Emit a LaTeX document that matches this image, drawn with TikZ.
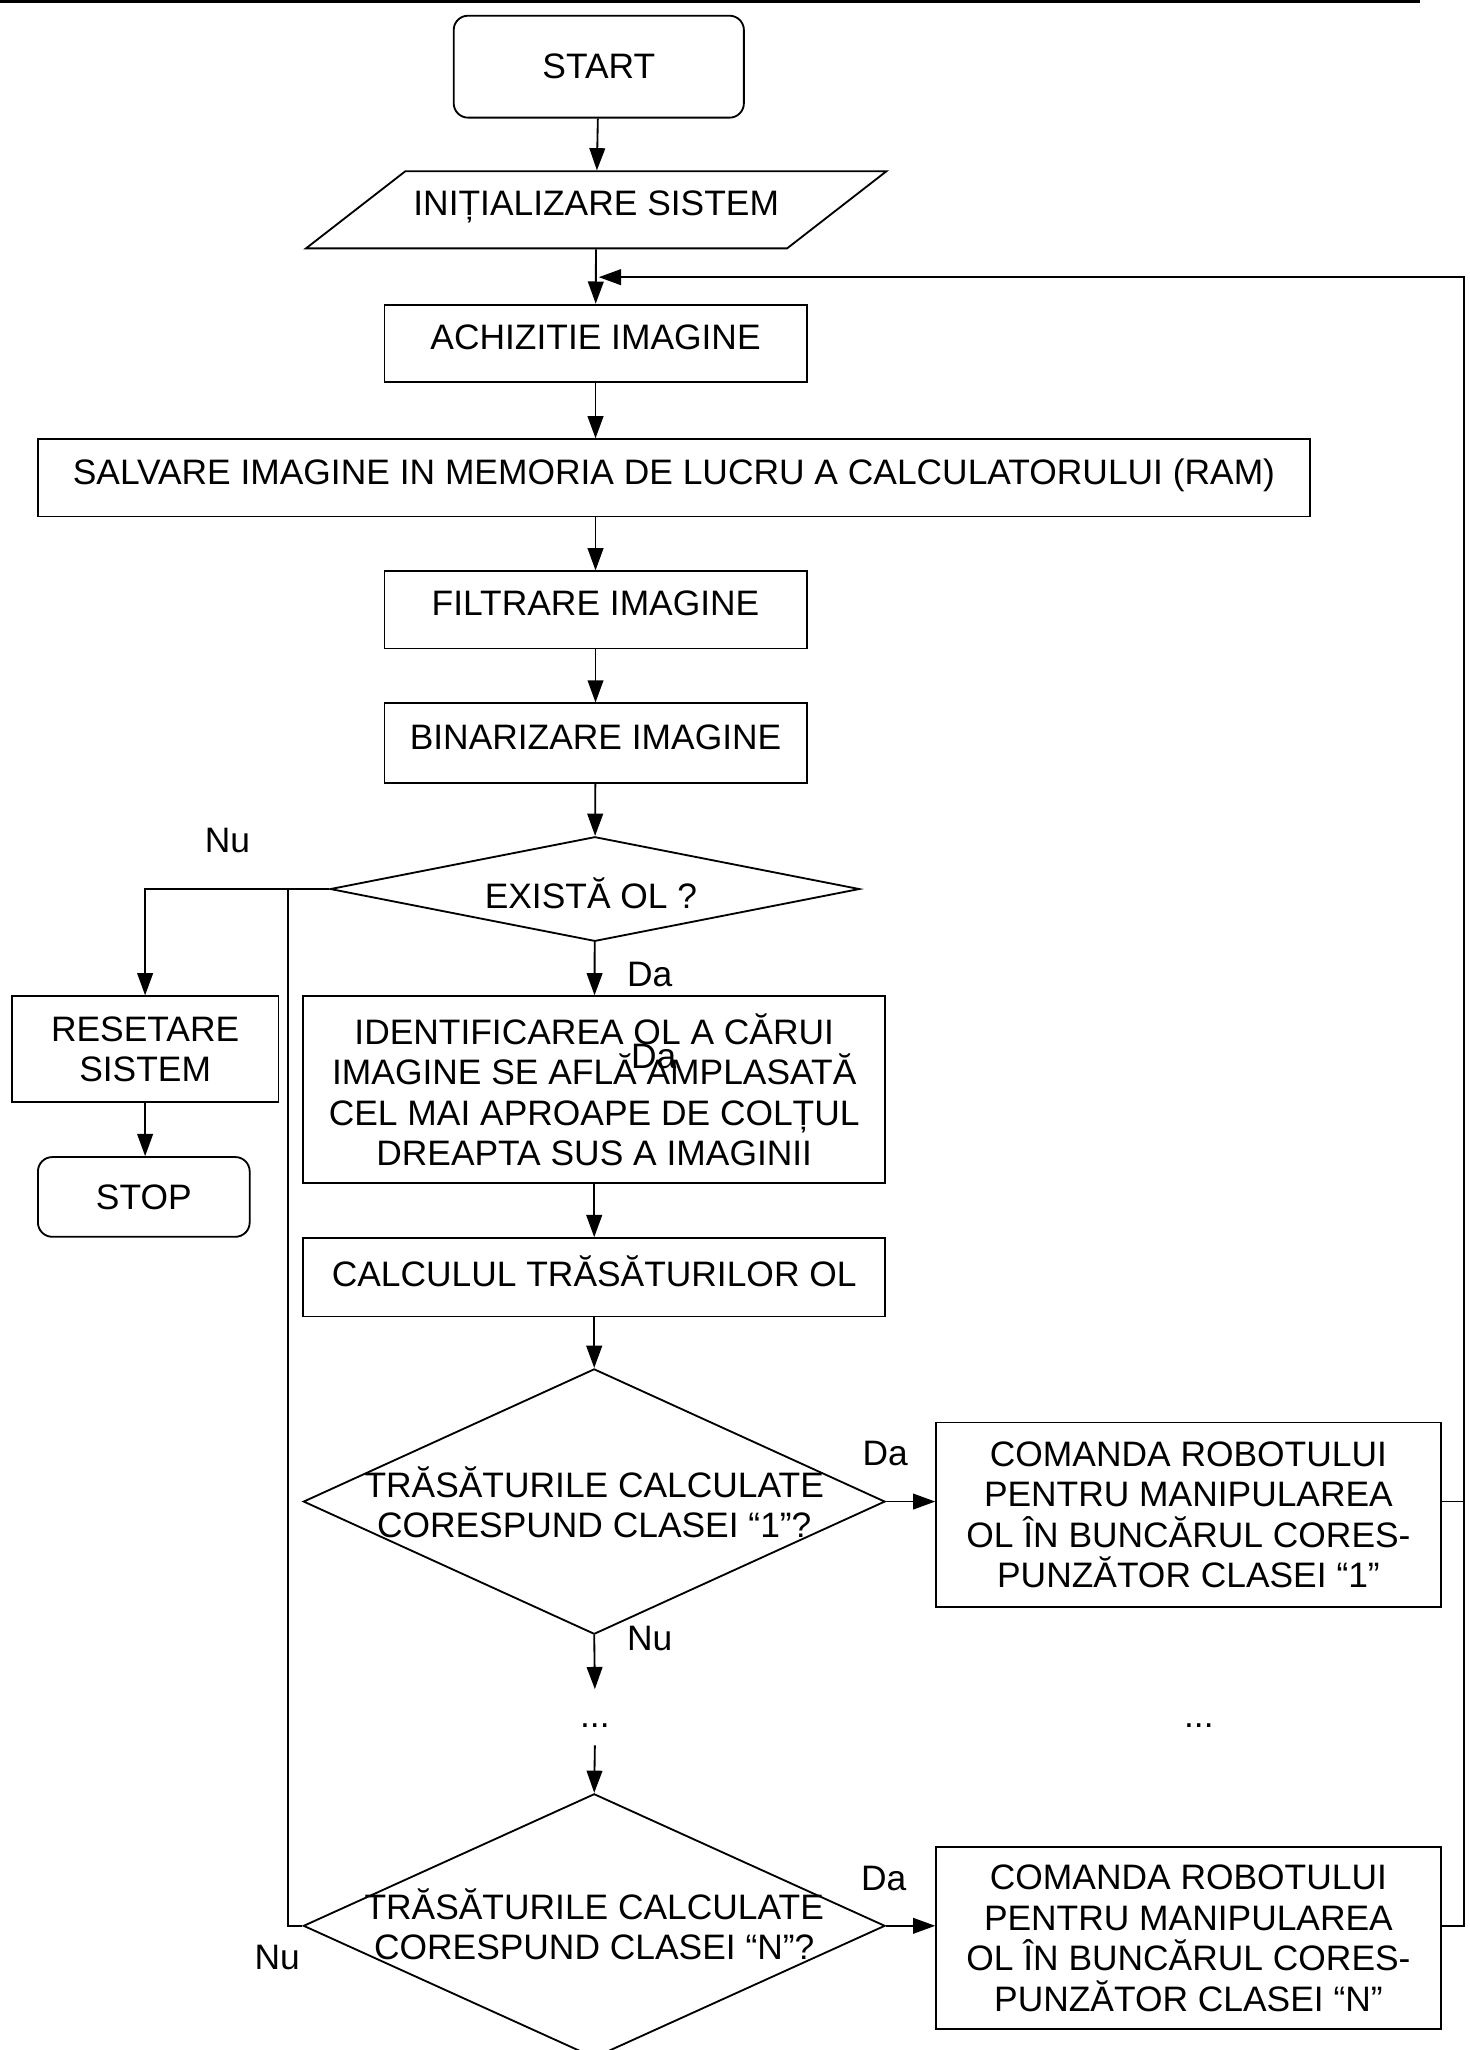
\documentclass[tikz,border=0pt]{standalone}
\usepackage{fontspec}
\setmainfont{Liberation Sans}
\usetikzlibrary{arrows.meta,shapes.geometric}

\tikzset{
  box/.style={draw, rectangle, align=center, inner sep=2pt},
  one/.style={box, text depth=.2cm},
  term/.style={box, rounded corners=.22cm},
  dec/.style={draw, diamond, inner sep=0pt},
  txt/.style={align=center, inner sep=0pt},
}

\begin{document}
\begin{tikzpicture}[x=0.02cm,y=-0.02cm,
  font=\fontsize{15.4}{17.6}\selectfont,
  line width=.8pt, >={Triangle[length=.34cm,width=.24cm]}]
\useasboundingbox (0,0) rectangle (1124,1568);
\clip (0,0) rectangle (1124,1568);

% page rule
\draw[line width=1.6pt] (0,1) -- (1086,1);

% main column
\node[term, minimum width=4.44cm, minimum height=1.56cm] (start) at (458,51) {START};
\node[box, draw=none, text depth=.2cm, minimum width=7.36cm, minimum height=1.18cm] (init) at (456,160.5) {INIȚIALIZARE SISTEM};
\draw[shift={(init.center)}] (-222,29.5) -- (-146,-29.5) -- (222,-29.5) -- (146,29.5) -- cycle;
\node[one, minimum width=6.46cm, minimum height=1.18cm] (acq) at (455.5,262.5) {ACHIZITIE IMAGINE};
\node[one, minimum width=19.46cm, minimum height=1.18cm] (save) at (515.5,365.5) {SALVARE IMAGINE IN MEMORIA DE LUCRU A CALCULATORULUI (RAM)};
\node[one, minimum width=6.46cm, minimum height=1.18cm] (filt) at (455.5,466.5) {FILTRARE IMAGINE};
\node[one, minimum width=6.46cm, minimum height=1.22cm] (bin) at (455.5,568.5) {BINARIZARE IMAGINE};
\node[dec, minimum width=8.1cm, minimum height=1.6cm] (q0) at (455,680) {};
\node[txt] (q0t) at (452,683) {EXISTĂ OL ?};

% branch Nu
\node[box, minimum width=4.08cm, minimum height=1.62cm] (reset) at (111,802.5) {RESETARE\\SISTEM};
\node[term, minimum width=3.24cm, minimum height=1.22cm] (stop) at (110,915.5) {STOP};

% branch Da
\node[box, minimum width=8.9cm, minimum height=2.86cm] (ident) at (454.5,833.5)
  {IDENTIFICAREA OL A CĂRUI\\IMAGINE SE AFLĂ AMPLASATĂ\\CEL MAI APROAPE DE COLȚUL\\DREAPTA SUS A IMAGINII};
\node[one, minimum width=8.9cm, minimum height=1.2cm] (feat) at (454.5,977) {CALCULUL TRĂSĂTURILOR OL};

\node[dec, minimum width=8.9cm, minimum height=4.06cm] (q1) at (454.5,1148.5) {};
\node[txt] (q1t) at (454.5,1149) {TRĂSĂTURILE CALCULATE\\CORESPUND CLASEI “1”?};
\node[box, minimum width=7.72cm, minimum height=2.82cm] (c1) at (909,1158.5)
  {COMANDA ROBOTULUI\\PENTRU MANIPULAREA\\OL ÎN BUNCĂRUL CORES-\\PUNZĂTOR CLASEI “1”};

\node[txt] (dots1) at (455,1320) {...};
\node[txt] (dots2) at (917,1320) {...};

\node[dec, minimum width=8.9cm, minimum height=4.04cm] (qN) at (454.5,1473) {};
\node[txt] (qNt) at (454.5,1472) {TRĂSĂTURILE CALCULATE\\CORESPUND CLASEI “N”?};
\node[box, minimum width=7.72cm, minimum height=2.78cm] (cN) at (909,1482.5)
  {COMANDA ROBOTULUI\\PENTRU MANIPULAREA\\OL ÎN BUNCĂRUL CORES-\\PUNZĂTOR CLASEI “N”};

% labels
\node[txt] (nu0) at (174,643) {Nu};
\node[txt] (da0) at (497,745) {Da};
\node[txt] (da0b) at (500,808) {Da};
\node[txt] (da1) at (677,1112) {Da};
\node[txt] (nu1) at (497,1253) {Nu};
\node[txt] (daN) at (676,1437) {Da};
\node[txt] (nuN) at (212,1497) {Nu};

% helper points
\coordinate (gap1) at (455,1292);
\coordinate (gap2) at (455,1335);
\coordinate (back) at (1120,1473);
\coordinate (loop) at (458,212);
\coordinate (nu) at (220,680);

% connectors
\draw[->] (start) -- (init);
\draw[->] (init) -- (acq);
\draw[->] (acq.south) -- (acq.south |- save.north);
\draw[->] (save.south -| filt) -- (filt);
\draw[->] (filt) -- (bin);
\draw[->] (bin) -- (q0);
\draw[->] (q0) -- (ident);
\draw[->] (q0.west) -| (reset.north);
\draw[->] (reset.south) -- (reset.south |- stop.north);
\draw[->] (ident) -- (feat);
\draw[->] (feat) -- (q1);
\draw[->] (q1.south) -- (gap1);
\draw[->] (gap2) -- (qN.north);
\draw[->] (q1.east) -- (q1.east -| c1.west);
\draw[->] (qN.east) -- (qN.east -| cN.west);
\draw (qN.west) -| (nu);
\draw (q1.east -| c1.east) -- (q1.east -| back);
\draw[->] (qN.east -| cN.east) -- (back) -- (back |- loop) -- (loop);
\end{tikzpicture}
\end{document}
